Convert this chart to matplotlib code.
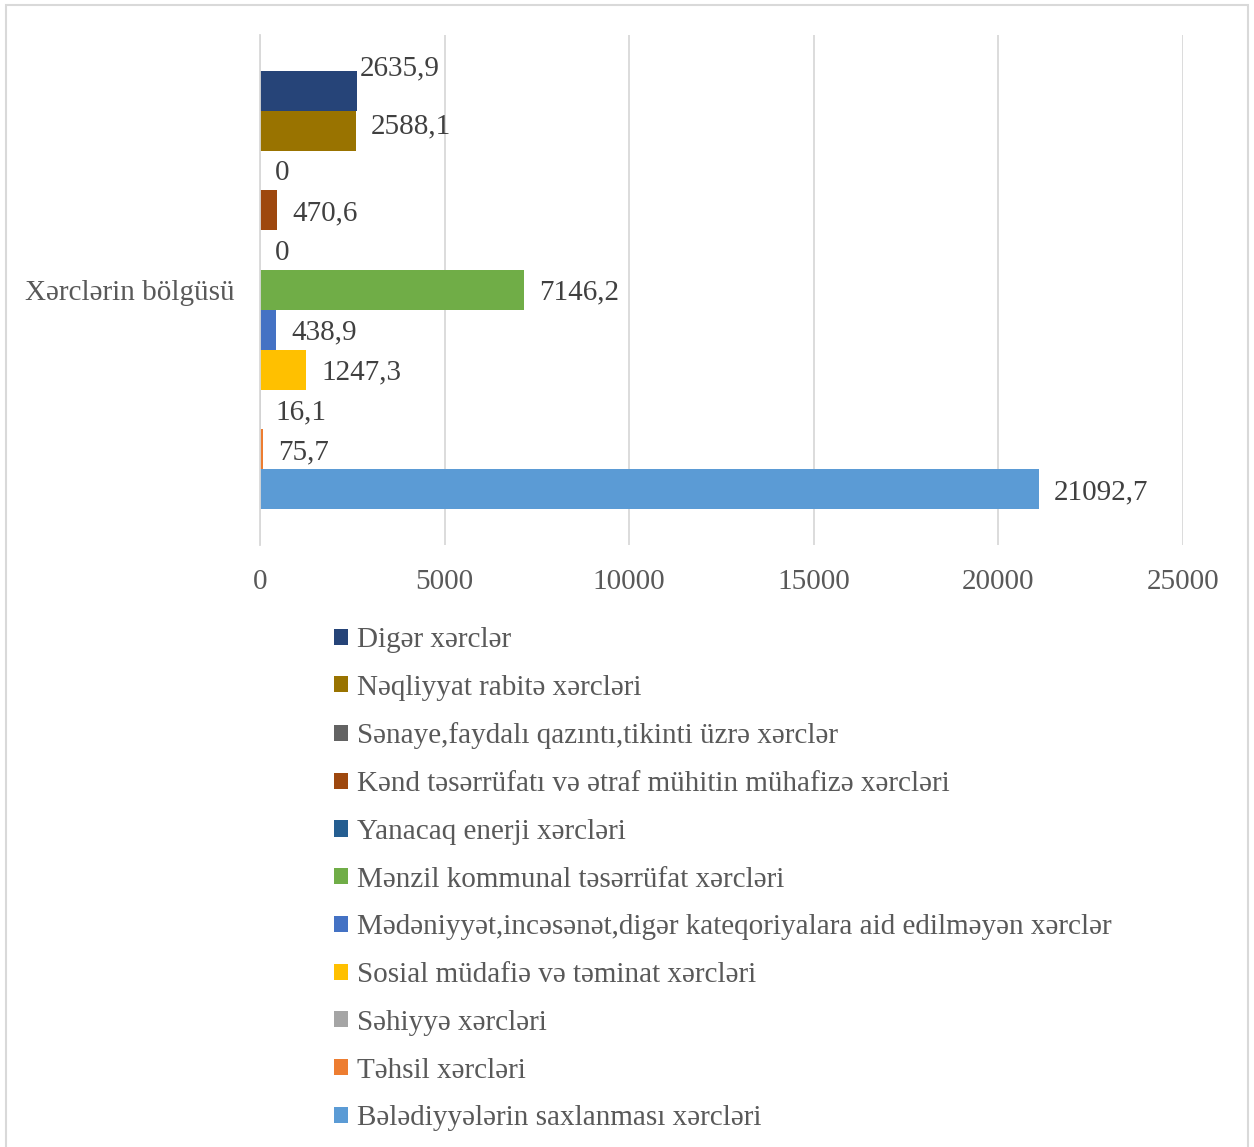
import matplotlib
matplotlib.use("Agg")
import matplotlib.pyplot as plt
from matplotlib.patches import Rectangle

plt.rcParams['font.family'] = ['Liberation Serif', 'DejaVu Serif']

category = "Xərclərin bölgüsü"
series = [
    "Digər xərclər",
    "Nəqliyyat rabitə xərcləri",
    "Sənaye,faydalı qazıntı,tikinti üzrə xərclər",
    "Kənd təsərrüfatı və ətraf mühitin mühafizə xərcləri",
    "Yanacaq enerji xərcləri",
    "Mənzil kommunal təsərrüfat xərcləri",
    "Mədəniyyət,incəsənət,digər kateqoriyalara aid edilməyən xərclər",
    "Sosial müdafiə və təminat xərcləri",
    "Səhiyyə xərcləri",
    "Təhsil xərcləri",
    "Bələdiyyələrin saxlanması xərcləri",
]
values = [2635.9, 2588.1, 0, 470.6, 0, 7146.2, 438.9, 1247.3, 16.1, 75.7, 21092.7]
labels = ["2635,9", "2588,1", "0", "470,6", "0", "7146,2", "438,9", "1247,3", "16,1", "75,7", "21092,7"]
colors = ["#264478", "#997300", "#636363", "#9E480E", "#255E91", "#70AD47",
          "#4472C4", "#FFC000", "#A5A5A5", "#ED7D31", "#5B9BD5"]
xticks = [0, 5000, 10000, 15000, 20000, 25000]

FS = 21

fig = plt.figure(figsize=(12.54, 11.47), dpi=100)
ax = fig.add_axes([260 / 1254, 1 - 545 / 1147, 923 / 1254, 510 / 1147])

n = len(series)
handles = []
for i, (name, v, lab, c) in enumerate(zip(series, values, labels, colors)):
    y = n - 1 - i
    h = ax.barh(y, v, height=1.0, color=c, label=name)
    handles.append(h)
    dx, dy = 11, -2
    if i == 0:
        dx, dy = 2, 16
    elif i == 1:
        dy = 3
    ax.annotate(lab, (v, y), xytext=(dx, dy), textcoords='offset points',
                va='center', ha='left', fontsize=FS, color='#404040')

ax.set_xlim(0, 25000)
ax.set_ylim(-0.5 - 0.9, n - 0.5 + 0.9)
ax.set_xticks(xticks)
ax.set_xticklabels([str(t) for t in xticks])
ax.set_yticks([(n - 1) / 2])
ax.set_yticklabels([category])
ax.tick_params(axis='x', length=0, pad=17, labelsize=FS, labelcolor='#595959')
ax.tick_params(axis='y', length=0, pad=18, labelsize=FS, labelcolor='#595959')
ax.grid(axis='x', color='#D9D9D9', linewidth=1.3)
ax.set_axisbelow(True)
for s in ['top', 'right', 'bottom']:
    ax.spines[s].set_visible(False)
ax.spines['left'].set_color('#D9D9D9')
ax.spines['left'].set_linewidth(1.3)

leg = fig.legend(handles=handles, labels=series, loc='upper left',
                 bbox_to_anchor=(334 / 1254, 1 - 627 / 1147), frameon=False,
                 fontsize=FS, labelcolor='#595959', handlelength=0.47,
                 handleheight=0.47, handletextpad=0.32, labelspacing=0.745,
                 borderaxespad=0, borderpad=0)

fig.patches.append(Rectangle((6 / 1254, -0.01), 1242 / 1254, 1 - 5 / 1147 + 0.01,
                             transform=fig.transFigure, fill=False,
                             edgecolor='#D9D9D9', linewidth=1.5))

fig.savefig("out.png", dpi=100)
plt.close(fig)
